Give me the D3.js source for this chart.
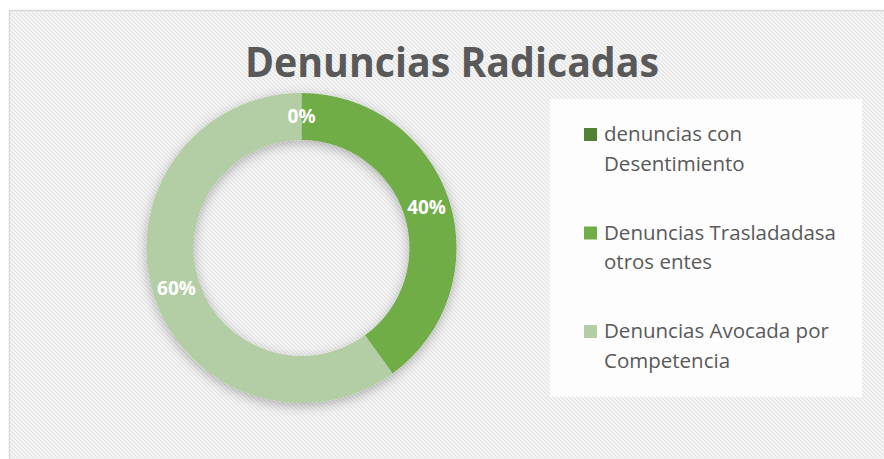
<!DOCTYPE html>
<html>
<head>
<meta charset="utf-8">
<script src="https://cdn.jsdelivr.net/npm/d3@7"></script>
<style>
  html, body { margin: 0; padding: 0; background: #ffffff; }
  svg { display: block; }
</style>
</head>
<body>
<div id="chart"></div>
<script>
// chart data
const categories = ['denuncias con Desentimiento', 'Denuncias Trasladadasa otros entes', 'Denuncias Avocada por Competencia'];
const legendLines = [['denuncias con', 'Desentimiento'], ['Denuncias Trasladadasa', 'otros entes'], ['Denuncias Avocada por', 'Competencia']];
const values = [0, 40, 60];
const colors = ['#548235', '#70ad47', '#b3cea4'];
const title = 'Denuncias Radicadas';

const width = 884;
const height = 459;
const center = { x: 301.5, y: 248 };
const outerR = 155;
const innerR = 108;

const svg = d3.select('#chart')
    .append('svg')
    .attr('width', width)
    .attr('height', height);

const defs = svg.append('defs');

// diagonal stripe background
const pattern = defs.append('pattern')
    .attr('id', 'stripes')
    .attr('patternUnits', 'userSpaceOnUse')
    .attr('width', 4)
    .attr('height', 4);
pattern.append('rect')
    .attr('width', 4)
    .attr('height', 4)
    .attr('fill', '#fafafa');
pattern.append('path')
    .attr('d', 'M-1,-1 L5,5 M-1,3 L1,5 M3,-1 L5,1')
    .attr('stroke', '#e4e4e4')
    .attr('stroke-width', 1.4);

const shadow = defs.append('filter')
    .attr('id', 'shadow')
    .attr('x', '-30%').attr('y', '-30%')
    .attr('width', '160%').attr('height', '160%');
shadow.append('feDropShadow')
    .attr('dx', 0)
    .attr('dy', 3)
    .attr('stdDeviation', 6)
    .attr('flood-color', '#000')
    .attr('flood-opacity', 0.28);

// chart area with border
svg.append('rect')
    .attr('x', 9.5)
    .attr('y', 10.5)
    .attr('width', width)
    .attr('height', height)
    .attr('fill', 'url(#stripes)')
    .attr('stroke', '#d9d9d9')
    .attr('stroke-width', 1.5);

// title
svg.append('text')
    .attr('x', 452)
    .attr('y', 77)
    .attr('text-anchor', 'middle')
    .attr('font-family', '"Open Sans", sans-serif')
    .attr('font-weight', 'bold')
    .attr('font-size', 42)
    .attr('fill', '#595959')
    .attr('textLength', 414)
    .attr('lengthAdjust', 'spacingAndGlyphs')
    .text(title);

// donut
const pie = d3.pie().sort(null).value(d => d);
const arc = d3.arc().innerRadius(innerR).outerRadius(outerR);
const labelArc = d3.arc().innerRadius((innerR + outerR) / 2).outerRadius((innerR + outerR) / 2);
const arcs = pie(values);

const donut = svg.append('g')
    .attr('transform', 'translate(' + center.x + ',' + center.y + ')');

donut.append('g')
    .attr('filter', 'url(#shadow)')
    .selectAll('path')
    .data(arcs)
    .enter()
    .append('path')
    .attr('d', arc)
    .attr('fill', (d, i) => colors[i]);

donut.selectAll('text')
    .data(arcs)
    .enter()
    .append('text')
    .attr('transform', d => 'translate(' + labelArc.centroid(d) + ')')
    .attr('text-anchor', 'middle')
    .attr('dy', '0.36em')
    .attr('font-family', '"Open Sans", sans-serif')
    .attr('font-weight', 'bold')
    .attr('font-size', 19)
    .attr('fill', '#ffffff')
    .text(d => Math.round(d.data / d3.sum(values) * 100) + '%');

// legend
svg.append('rect')
    .attr('x', 550)
    .attr('y', 99)
    .attr('width', 312)
    .attr('height', 298)
    .attr('fill', '#ffffff')
    .attr('fill-opacity', 0.85);

const legend = svg.append('g')
    .selectAll('g')
    .data(categories)
    .enter()
    .append('g')
    .attr('transform', (d, i) => 'translate(584,' + (141 + i * 98.5) + ')');

legend.append('rect')
    .attr('x', 0)
    .attr('y', -13)
    .attr('width', 13)
    .attr('height', 13)
    .attr('fill', (d, i) => colors[i]);

legend.append('text')
    .attr('font-family', '"Open Sans", sans-serif')
    .attr('font-size', 20.5)
    .attr('fill', '#595959')
    .selectAll('tspan')
    .data((d, i) => legendLines[i])
    .enter()
    .append('tspan')
    .attr('x', 20)
    .attr('y', (d, j) => j * 29.5)
    .text(d => d);
</script>
</body>
</html>
